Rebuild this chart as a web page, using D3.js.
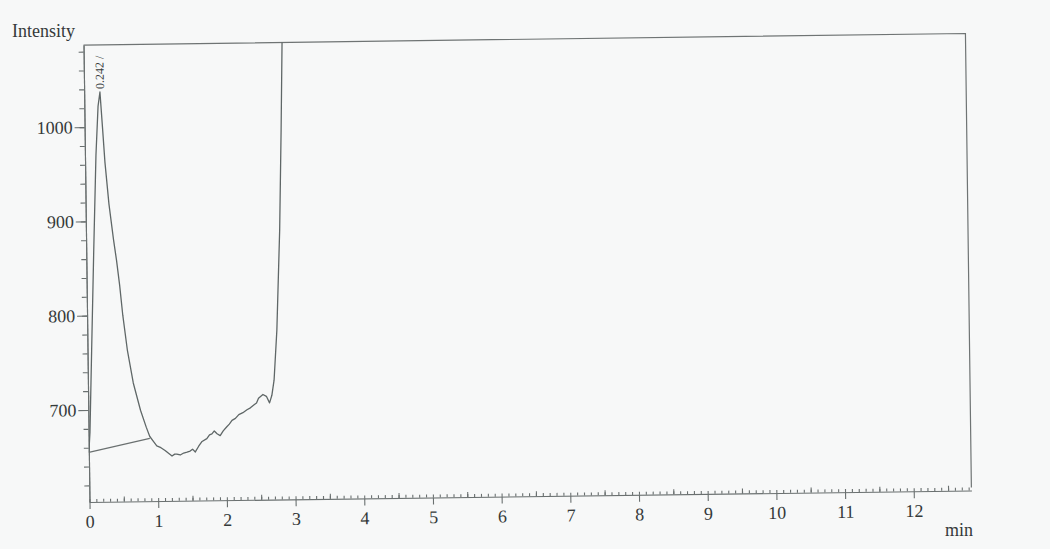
<!DOCTYPE html>
<html>
<head>
<meta charset="utf-8">
<script src="https://cdn.jsdelivr.net/npm/d3@7"></script>
<style>
  html, body { margin: 0; padding: 0; background: #f7f8f8; }
  svg { display: block; }
  .axis path, .axis line { stroke: #6a7070; stroke-width: 1.1; }
  .axis text { font-family: "Liberation Serif", "DejaVu Serif", serif; fill: #353a3a; }
</style>
</head>
<body>
<div id="chart"></div>
<script>
// chromatogram trace (minutes, intensity)
const timeMin = [0, 0.02, 0.06, 0.11, 0.16, 0.2, 0.23, 0.26, 0.29, 0.34, 0.4, 0.44, 0.48, 0.52, 0.58, 0.66, 0.76,
    0.84, 0.89, 0.95, 0.99, 1.05, 1.11, 1.16, 1.21, 1.25, 1.28, 1.33, 1.38, 1.43, 1.475, 1.51, 1.55, 1.6, 1.65,
    1.72, 1.76, 1.795, 1.83, 1.87, 1.915, 1.96, 2.01, 2.05, 2.09, 2.14, 2.19, 2.25, 2.31, 2.36, 2.41, 2.45,
    2.48, 2.545, 2.595, 2.64, 2.675, 2.71, 2.76, 2.82, 2.86, 2.89, 2.91];
const intensity = [655, 676, 763, 870, 970, 1022, 1037, 1000, 962, 918, 880, 858, 832, 800, 763, 728, 699,
    681, 671, 665, 661, 659, 656, 653, 650, 652, 652, 651, 653, 654, 655, 657, 654, 660, 665,
    668, 672, 673, 676, 673, 671, 676, 680, 683, 687, 689, 693, 695, 698, 700, 703, 705,
    710, 714, 712, 705, 713, 729, 782, 888, 994, 1086, 1150];

// integration baseline under the peak
const baselineTime = [0, 0.89];
const baselineIntensity = [655, 669];

// peak annotation
const peakTime = 0.23;
const peakIntensity = 1037;
const peakLabel = "0.242 /";

const yMajorTicks = [700, 800, 900, 1000];
const yMinorTicks = d3.range(620, 1081, 20);
const xMajorTicks = [0, 1, 2, 3, 4, 5, 6, 7, 8, 9, 10, 11, 12];
const xMinorTicks = d3.range(0, 12.81, 0.1).map(d => +d.toFixed(1));
const xHalfTicks = d3.range(0.5, 12.6, 1);

const width = 1050, height = 549;
const plotW = 882, plotH = 457;

const svg = d3.select("#chart").append("svg")
    .attr("width", width)
    .attr("height", height);

svg.append("rect")
    .attr("width", width)
    .attr("height", height)
    .attr("fill", "#f7f8f8");

// the scanned page is tilted a little, so the whole plot is turned
const g = svg.append("g")
    .attr("transform", "translate(89.5,502) rotate(-0.75)");

const x = d3.scaleLinear().domain([0, 12.84]).range([0, plotW]);
const y = d3.scaleLinear().domain([602.4, 1087]).range([0, -plotH]);

g.append("clipPath").attr("id", "clip")
    .append("rect")
    .attr("x", 0).attr("y", -plotH)
    .attr("width", plotW).attr("height", plotH);

// frame: top and right
g.append("path")
    .attr("d", `M0,${-plotH}H${plotW}V-3`)
    .attr("fill", "none")
    .attr("stroke", "#6f7474")
    .attr("stroke-width", 1.2);

// y axis
g.append("g").attr("class", "axis")
    .call(d3.axisLeft(y).tickValues(yMinorTicks).tickSize(5).tickSizeOuter(0).tickFormat(""));
g.append("g").attr("class", "axis")
    .call(d3.axisLeft(y).tickValues(yMajorTicks).tickSize(10).tickSizeOuter(0).tickPadding(2).tickFormat(d3.format("d")))
    .call(a => a.selectAll("text").style("font-size", "18px"));

// x axis
g.append("g").attr("class", "axis")
    .call(d3.axisTop(x).tickValues(xMinorTicks).tickSize(3).tickSizeOuter(0).tickFormat(""))
    .call(a => a.select(".domain").remove());
g.append("g").attr("class", "axis")
    .call(d3.axisTop(x).tickValues(xHalfTicks).tickSize(5).tickSizeOuter(0).tickFormat(""))
    .call(a => a.select(".domain").remove());
g.append("g").attr("class", "axis")
    .call(d3.axisBottom(x).tickValues(xMajorTicks).tickSize(7).tickSizeOuter(0).tickPadding(6))
    .call(a => a.selectAll("text").style("font-size", "18px"));

// baseline
const line = d3.line()
    .x(d => x(d[0]))
    .y(d => y(d[1]));

g.append("path")
    .datum(d3.zip(baselineTime, baselineIntensity))
    .attr("d", line)
    .attr("fill", "none")
    .attr("stroke", "#6a7070")
    .attr("stroke-width", 1.1);

// signal
g.append("path")
    .datum(d3.zip(timeMin, intensity))
    .attr("clip-path", "url(#clip)")
    .attr("d", line)
    .attr("fill", "none")
    .attr("stroke", "#5f6767")
    .attr("stroke-width", 1.3)
    .attr("stroke-linejoin", "round");

// peak label
g.append("text")
    .attr("transform", `translate(${x(peakTime) + 4},${y(peakIntensity) - 3}) rotate(-90)`)
    .attr("font-family", "Liberation Serif, serif")
    .attr("font-size", 12)
    .attr("fill", "#353a3a")
    .text(peakLabel);

svg.append("text")
    .attr("x", 12).attr("y", 37)
    .attr("font-family", "Liberation Serif, serif")
    .attr("font-size", 18)
    .attr("fill", "#353a3a")
    .text("Intensity");

svg.append("text")
    .attr("x", 973).attr("y", 536)
    .attr("text-anchor", "end")
    .attr("font-family", "Liberation Serif, serif")
    .attr("font-size", 18)
    .attr("fill", "#353a3a")
    .text("min");
</script>
</body>
</html>
